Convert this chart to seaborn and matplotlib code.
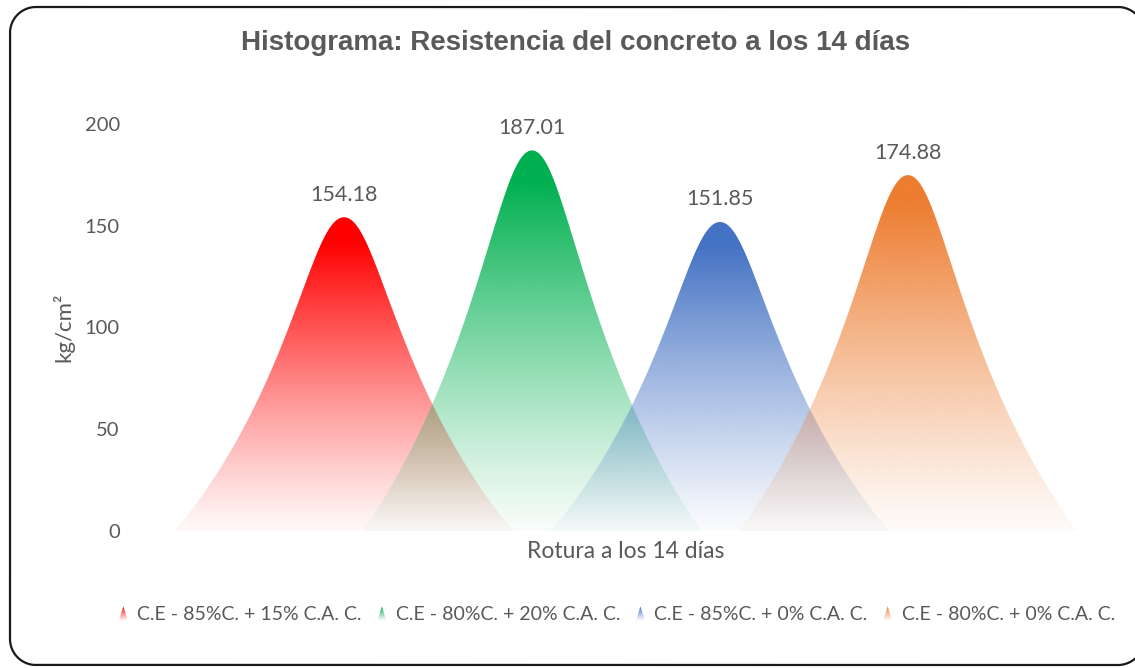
import numpy as np
import pandas as pd
import matplotlib
matplotlib.use("Agg")
import matplotlib.pyplot as plt
import seaborn as sns
from matplotlib.patches import Polygon, Patch
from matplotlib.lines import Line2D
from matplotlib.legend_handler import HandlerBase
from matplotlib.transforms import IdentityTransform
from matplotlib.colors import to_rgb

# ---- data -------------------------------------------------------------
category = ["Rotura a los 14 días"]
series = [
    "C.E - 85%C. + 15% C.A. C.",
    "C.E - 80%C. + 20% C.A. C.",
    "C.E - 85%C. + 0% C.A. C.",
    "C.E - 80%C. + 0% C.A. C.",
]
values = [154.18, 187.01, 151.85, 174.88]
colors = ["#FF0000", "#00B050", "#4472C4", "#ED7D31"]
yticks = [0, 50, 100, 150, 200]

df = pd.DataFrame({
    "rotura": category * len(series),
    "serie": series,
    "valor": values,
})

TEXT = "#595959"
sns.set_theme(style="white")
plt.rcParams["font.family"] = ["Lato", "DejaVu Sans"]

W, H = 1135, 668
fig = plt.figure(figsize=(W / 100, H / 100), dpi=100)
fig.patch.set_facecolor("white")
ax = fig.add_axes([156 / W, (H - 531) / H, 940 / W, (531 - 124) / H])

sns.barplot(data=df, x="rotura", y="valor", hue="serie", hue_order=series,
            palette=colors, ax=ax, legend=False, errorbar=None)


def peak_outline(n=200):
    """Half-profile of a peak as a cubic Bezier from crest (0, 1) to foot (1, 0)."""
    t = np.linspace(0, 1, n)
    p0, p1, p2, p3 = (0.0, 1.0), (0.2, 1.0), (0.3, 0.45), (1.0, 0.0)
    b0, b1, b2, b3 = (1 - t) ** 3, 3 * (1 - t) ** 2 * t, 3 * (1 - t) * t ** 2, t ** 3
    x = b0 * p0[0] + b1 * p1[0] + b2 * p2[0] + b3 * p3[0]
    y = b0 * p0[1] + b1 * p1[1] + b2 * p2[1] + b3 * p3[1]
    u = np.concatenate([-x[::-1], x[1:]])
    f = np.concatenate([y[::-1], y[1:]])
    return u, f


def alpha_ramp(frac):
    return 0.03 + 0.97 * np.clip(frac / 0.92, 0, 1) ** 1.15


u, f = peak_outline()
grad_rows = np.linspace(0, 1, 256)

for container, col in zip(ax.containers, colors):
    for bar in container:
        cx = bar.get_x() + bar.get_width() / 2
        h = bar.get_height()
        hw = bar.get_width() * 0.9
        bar.set_visible(False)

        poly = Polygon(np.column_stack([cx + u * hw, h * f]), closed=True,
                       facecolor="none", edgecolor="none")
        ax.add_patch(poly)

        img = np.zeros((256, 1, 4))
        img[:, 0, :3] = to_rgb(col)
        img[:, 0, 3] = alpha_ramp(grad_rows)
        im = ax.imshow(img, extent=[cx - hw, cx + hw, 0, h], origin="lower",
                       aspect="auto", interpolation="bilinear", zorder=2)
        im.set_clip_path(poly)

    ax.bar_label(container, fmt="%.2f", padding=9, fontsize=15.5, color=TEXT)

ax.set_xlim(-0.5, 0.5)
ax.set_ylim(0, 200)
ax.set_yticks(yticks)
ax.tick_params(axis="y", length=0, pad=26, labelsize=14.5, labelcolor=TEXT)
ax.tick_params(axis="x", length=0, pad=7, labelsize=16.5, labelcolor=TEXT)
ax.set_xlabel("")
ax.set_ylabel("kg/cm²", fontsize=16, color=TEXT)
ax.yaxis.set_label_coords((63 - 156) / 940, 0.5)
ax.yaxis.label.set_va("center")
for s in ax.spines.values():
    s.set_visible(False)
ax.set_facecolor("none")

fig.text(576 / W, 1 - 43 / H, "Histograma: Resistencia del concreto a los 14 días",
         ha="center", va="center", fontsize=20, fontweight="bold", color=TEXT,
         family=["Liberation Sans", "DejaVu Sans"])


class PeakHandler(HandlerBase):
    """Small faded peak used as the legend key."""

    def create_artists(self, legend, orig_handle, xdescent, ydescent,
                       width, height, fontsize, trans):
        rgb = to_rgb(orig_handle.get_facecolor())
        cx = width / 2 - xdescent
        base = -ydescent
        top = base + height * 1.05
        hw = width / 2
        n = 10
        arts = []
        edges = np.linspace(0, 1, n + 1)
        for a, b in zip(edges[:-1], edges[1:]):
            wa, wb = hw * (1 - a), hw * (1 - b)
            ya, yb = base + a * (top - base), base + b * (top - base)
            p = Polygon([(cx - wa, ya), (cx + wa, ya), (cx + wb, yb), (cx - wb, yb)],
                        closed=True, facecolor=(*rgb, float(alpha_ramp((a + b) / 2))),
                        edgecolor="none", transform=trans)
            arts.append(p)
        return arts


handles = [Patch(facecolor=c, label=s) for c, s in zip(colors, series)]
fig.legend(handles=handles, labels=series, loc="center",
           bbox_to_anchor=(617 / W, 1 - 615 / H), ncol=4, frameon=False,
           fontsize=14, labelcolor=TEXT, handlelength=0.45, handleheight=0.7,
           handletextpad=0.5, columnspacing=0.8,
           handler_map={h: PeakHandler() for h in handles})


# rounded chart-area frame in pixel coordinates, running off the right edge
def frame_path(x0, y0, x1, y1, r, n=40):
    def arc(cx, cy, a0, a1):
        a = np.linspace(np.radians(a0), np.radians(a1), n)
        return cx + r * np.cos(a), cy + r * np.sin(a)
    pts_x, pts_y = [], []
    for cx, cy, a0, a1 in [(x1 - r, y0 + r, 0, -90), (x0 + r, y0 + r, 270, 180),
                           (x0 + r, y1 - r, 180, 90), (x1 - r, y1 - r, 90, 0)]:
        ax_, ay_ = arc(cx, cy, a0, a1)
        pts_x.extend(ax_)
        pts_y.extend(ay_)
    pts_x.append(pts_x[0])
    pts_y.append(pts_y[0])
    return pts_x, pts_y


fx, fy = frame_path(10, 3, 1144, H - 7, 26)
fig.add_artist(Line2D(fx, fy, transform=IdentityTransform(), color="#1a1a1a",
                      linewidth=1.6, solid_joinstyle="round"))

fig.savefig("out.png", dpi=100)
